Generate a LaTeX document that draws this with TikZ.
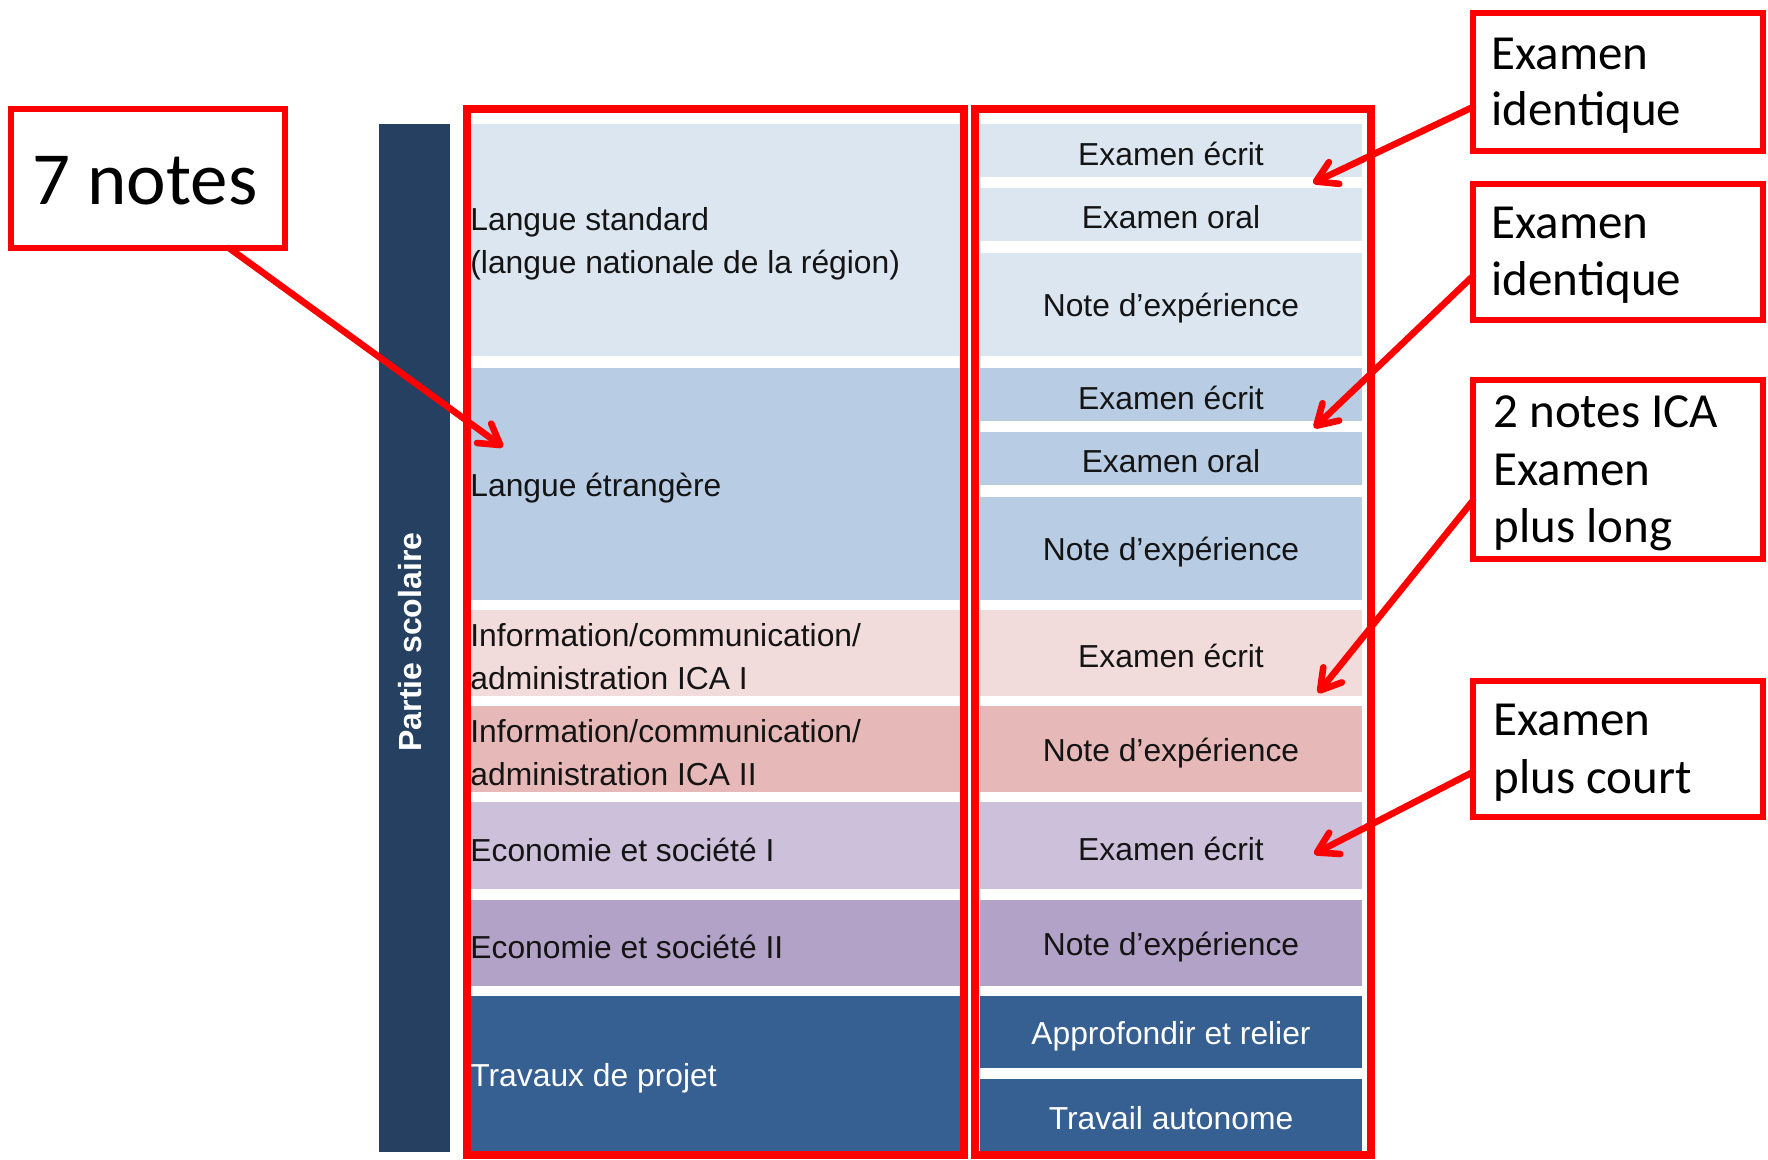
\documentclass[tikz,border=0pt]{standalone}
\usepackage{fontspec}
\setmainfont{Liberation Sans}
\newfontfamily\callfont{Carlito}
\usetikzlibrary{arrows.meta,calc}
\definecolor{barblue}{HTML}{254061}
\definecolor{lsblue}{HTML}{DCE6F1}
\definecolor{leblue}{HTML}{B8CCE4}
\definecolor{icaone}{HTML}{F2DCDB}
\definecolor{icatwo}{HTML}{E6B9B8}
\definecolor{ecoone}{HTML}{CCC0DA}
\definecolor{ecotwo}{HTML}{B3A2C7}
\definecolor{projblue}{HTML}{376092}
\definecolor{celltext}{HTML}{141414}
\definecolor{alertred}{HTML}{FF0000}
\begin{document}
\begin{tikzpicture}[x=0.5pt,y=-0.5pt,
  lcell/.style={anchor=north west, draw=none, inner sep=0pt, outer sep=0pt, minimum width=248pt},
  rcell/.style={anchor=north west, draw=none, inner sep=0pt, outer sep=0pt, minimum width=191pt},
  ltext/.style={anchor=west, inner sep=0pt, align=left, text=celltext,
    font=\fontsize{15.9pt}{21.5pt}\selectfont},
  rtext/.style={anchor=center, inner sep=0pt, align=center, text=celltext,
    font=\fontsize{15.9pt}{21.5pt}\selectfont},
  bigbox/.style={draw=alertred, line width=3.8pt},
  callout/.style={draw=alertred, line width=3pt, fill=white, inner sep=0pt, outer sep=0pt, minimum width=145pt},
  calltext/.style={anchor=base west, inner sep=0pt, font=\callfont\fontsize{24.5pt}{28pt}\selectfont},
  arr/.style={draw=alertred, line width=3.3pt, line cap=round,
    -{Straight Barb[length=10pt,width=12pt,line cap=round,line join=round]}}
]
\useasboundingbox (0,0) rectangle (1768,1160);
\fill[white] (0,0) rectangle (1768,1160);

% side bar
\node[fill=barblue, anchor=north west, minimum width=35.5pt, minimum height=514pt, inner sep=0pt, outer sep=0pt] (bar) at (379,124) {};
\node[rotate=90, text=white, font=\bfseries\fontsize{16pt}{19pt}\selectfont, inner sep=0pt] (bartext) at (410,642) {Partie scolaire};

% left cells
\node[lcell, fill=lsblue, minimum height=116pt] (l1) at (464,124) {};
\node[lcell, fill=leblue, minimum height=116pt] (l2) at (464,368) {};
\node[lcell, fill=icaone, minimum height=43pt] (l3) at (464,610) {};
\node[lcell, fill=icatwo, minimum height=43pt] (l4) at (464,706) {};
\node[lcell, fill=ecoone, minimum height=43.5pt] (l5) at (464,802) {};
\node[lcell, fill=ecotwo, minimum height=43pt] (l6) at (464,900) {};
\node[lcell, fill=projblue, minimum height=78pt] (l7) at (464,996) {};

\node[ltext] (l1t) at ($(l1.west)+(6,4)$) {Langue standard\\(langue nationale de la région)};
\node[ltext] (l2t) at ($(l2.west)+(6,4)$) {Langue étrangère};
\node[ltext] (l3t) at ($(l3.west)+(6,4)$) {Information/communication/\\administration ICA I};
\node[ltext] (l4t) at ($(l4.west)+(6,4)$) {Information/communication/\\administration ICA II};
\node[ltext] (l5t) at ($(l5.west)+(6,4)$) {Economie et société I};
\node[ltext] (l6t) at ($(l6.west)+(6,4)$) {Economie et société II};
\node[ltext, text=white] (l7t) at ($(l7.west)+(6,4)$) {Travaux de projet};

% right cells
\node[rcell, fill=lsblue, minimum height=26.5pt] (r1) at (980,124) {};
\node[rcell, fill=lsblue, minimum height=26.5pt] (r2) at (980,188) {};
\node[rcell, fill=lsblue, minimum height=51.5pt] (r3) at (980,253) {};
\node[rcell, fill=leblue, minimum height=26.5pt] (r4) at (980,368) {};
\node[rcell, fill=leblue, minimum height=26.5pt] (r5) at (980,432) {};
\node[rcell, fill=leblue, minimum height=51.5pt] (r6) at (980,497) {};
\node[rcell, fill=icaone, minimum height=43pt] (r7) at (980,610) {};
\node[rcell, fill=icatwo, minimum height=43pt] (r8) at (980,706) {};
\node[rcell, fill=ecoone, minimum height=43.5pt] (r9) at (980,802) {};
\node[rcell, fill=ecotwo, minimum height=43pt] (r10) at (980,900) {};
\node[rcell, fill=projblue, minimum height=36pt] (r11) at (980,996) {};
\node[rcell, fill=projblue, minimum height=36.5pt] (r12) at (980,1079) {};

\node[rtext] (r1t) at ($(r1.center)+(0,3)$) {Examen écrit};
\node[rtext] (r2t) at ($(r2.center)+(0,3)$) {Examen oral};
\node[rtext] (r3t) at ($(r3.center)+(0,4)$) {Note d’expérience};
\node[rtext] (r4t) at ($(r4.center)+(0,3)$) {Examen écrit};
\node[rtext] (r5t) at ($(r5.center)+(0,3)$) {Examen oral};
\node[rtext] (r6t) at ($(r6.center)+(0,4)$) {Note d’expérience};
\node[rtext] (r7t) at ($(r7.center)+(0,3)$) {Examen écrit};
\node[rtext] (r8t) at ($(r8.center)+(0,4)$) {Note d’expérience};
\node[rtext] (r9t) at ($(r9.center)+(0,3)$) {Examen écrit};
\node[rtext] (r10t) at ($(r10.center)+(0,4)$) {Note d’expérience};
\node[rtext, text=white] (r11t) at ($(r11.center)+(0,4)$) {Approfondir et relier};
\node[rtext, text=white] (r12t) at ($(r12.center)+(0,3)$) {Travail autonome};

% red frames
\draw[bigbox] (467,109) rectangle (964,1155);
\draw[bigbox] (975,109) rectangle (1371,1155);

% callout boxes
\node[callout, minimum width=137pt, minimum height=69.5pt] (n7) at (148,178.5) {};
\node[anchor=base, inner sep=0pt, font=\callfont\fontsize{37.5pt}{40pt}\selectfont] (n7t) at (145,205) {7 notes};

\node[callout, minimum height=68.75pt] (b1) at (1618,82) {};
\node[calltext] (b1a) at (1491,70) {Examen};
\node[calltext] (b1b) at (1491,126) {identique};

\node[callout, minimum height=68pt] (b2) at (1618,252) {};
\node[calltext] (b2a) at (1491,239) {Examen};
\node[calltext] (b2b) at (1491,296) {identique};

\node[callout, minimum height=89.5pt] (b3) at (1618,469.5) {};
\node[calltext] (b3a) at (1493,428) {2 notes ICA};
\node[calltext] (b3b) at (1493,486) {Examen};
\node[calltext] (b3c) at (1493,543) {plus long};

\node[callout, minimum height=68pt] (b4) at (1618,749) {};
\node[calltext] (b4a) at (1493,735) {Examen};
\node[calltext] (b4b) at (1493,793) {plus court};

% arrow ends
\coordinate (s0) at ($(n7.south)+(81,0)$);
\coordinate (s1) at ($(b1.west)+(0,25)$);
\coordinate (s2) at ($(b2.west)+(0,24)$);
\coordinate (s3) at ($(b3.west)+(0,31)$);
\coordinate (s4) at ($(b4.west)+(0,23)$);
\coordinate (t0) at (503,447);
\coordinate (t1) at (1313,183);
\coordinate (t2) at (1314,428);
\coordinate (t3) at (1318,693);
\coordinate (t4) at (1314,854);

\draw[arr] (s0) -- (t0);
\draw[arr] (s1) -- (t1);
\draw[arr] (s2) -- (t2);
\draw[arr] (s3) -- (t3);
\draw[arr] (s4) -- (t4);
\end{tikzpicture}
\end{document}
